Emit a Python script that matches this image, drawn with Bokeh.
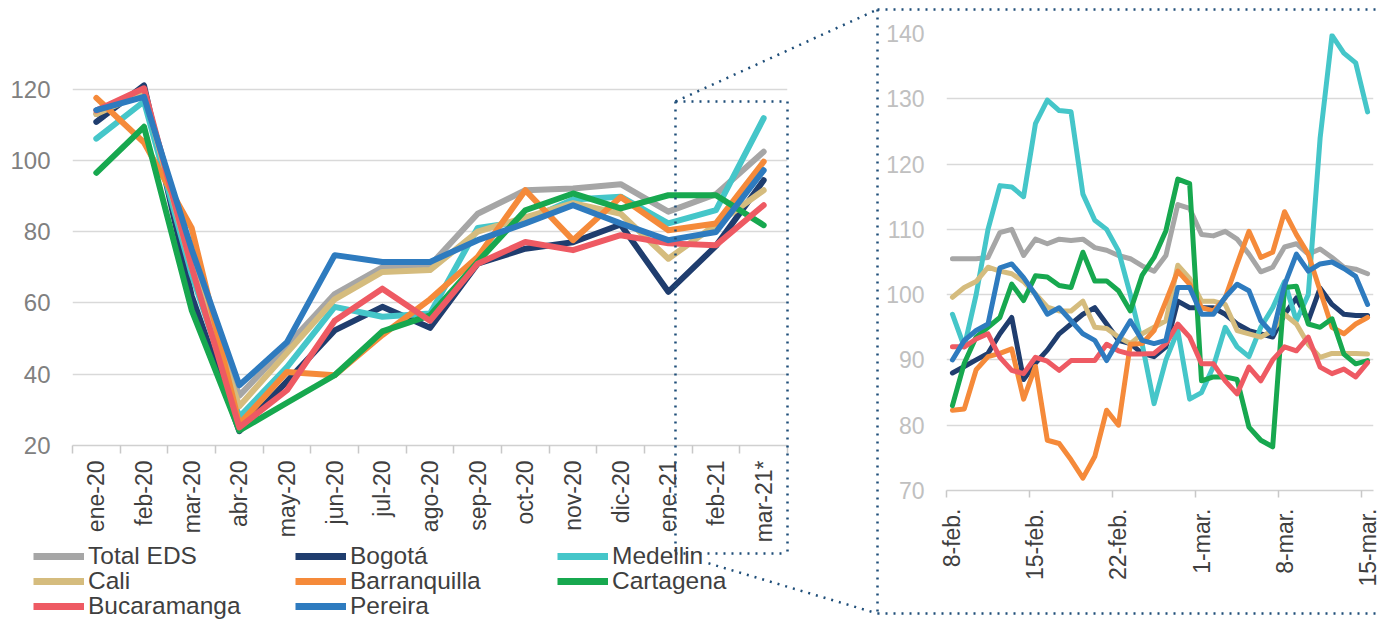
import math
from jinja2 import Template
from bokeh.plotting import figure
from bokeh.models import FixedTicker, Legend, LegendItem
from bokeh.embed import file_html
from bokeh.resources import INLINE

FONT = "Liberation Sans"
DOT = "#1f4e79"

# ---------------- data ----------------
months = ["ene-20", "feb-20", "mar-20", "abr-20", "may-20", "jun-20", "jul-20", "ago-20",
          "sep-20", "oct-20", "nov-20", "dic-20", "ene-21", "feb-21", "mar-21*"]

series_names = ["Total EDS", "Bogotá", "Medellin", "Cali", "Barranquilla",
                "Cartagena", "Bucaramanga", "Pereira"]
series_colors = ["#a6a6a6", "#1f3d6e", "#45c6c9", "#d5bc7e", "#f58a3a",
                 "#17a84f", "#ee5a63", "#2e7bbf"]

total_m = [113, 119, 72, 34, 48, 62.5, 70, 70.5, 85, 91.6, 92.1, 93.3, 85.6, 90.5, 102.4]
bogota_m = [110.8, 121, 62, 24, 38, 52.3, 58.9, 53, 71, 75.2, 77, 82, 63.1, 76, 94.4]
medellin_m = [106.1, 116.5, 68, 28, 42, 58.9, 56.1, 57, 81, 83, 89, 89.8, 82.3, 86, 111.8]
cali_m = [113, 119, 70, 31, 46, 61, 68.7, 69.2, 80, 84, 88, 85, 72.4, 82, 91.6]
barranquilla_m = [117.5, 105, 81, 26, 40.6, 39.7, 51, 61, 72.9, 91.6, 77.6, 89.7, 80.4, 82.3, 99.6]
cartagena_m = [96.5, 109.4, 58, 24.2, 32, 39.7, 52, 56.5, 71.5, 86, 90.7, 86.5, 90.2, 90.2, 81.8]
bucaramanga_m = [114, 120.2, 70, 25.1, 35.5, 55, 64, 55, 71, 77.1, 74.8, 79, 76.7, 76.2, 87.4]
pereira_m = [114.1, 117.8, 75, 36.9, 49, 73.4, 71.5, 71.5, 77.6, 82.3, 87.4, 82.3, 77.6, 79.9, 97.2]

# daily index, 8-feb .. 15-mar (36 days), labels every 7 days
day_labels = ["8-feb.", "15-feb.", "22-feb.", "1-mar.", "8-mar.", "15-mar."]
total_d = [105.5, 105.5, 105.5, 105.7, 109.5, 110.0, 106.0, 108.5, 107.8, 108.5, 108.3, 108.5,
           107.2, 106.8, 106.0, 105.5, 104.4, 103.6, 106.0, 113.8, 113.2, 109.2, 109.0, 109.7,
           108.5, 106.2, 103.5, 104.2, 107.3, 107.8, 106.2, 107.0, 105.7, 104.2, 103.9, 103.2]
bogota_d = [88, 89, 90, 91, 94, 96.5, 87, 89.5, 91.5, 94, 95.5, 97, 98, 95.5, 93, 92.5, 91, 90.5,
            92, 99, 98, 98, 98, 97, 95.5, 94.5, 94, 93.5, 97, 99.5, 96, 101, 98.5, 97, 96.8, 96.8]
medellin_d = [97, 92, 100, 110, 116.7, 116.5, 115, 126.2, 129.8, 128.2, 128, 115.4, 111.4, 110,
              106.7, 100, 92.4, 83.3, 90, 94.5, 84, 85, 89, 95, 92, 90.5, 95, 98, 102, 96, 100,
              124, 139.7, 137, 135.5, 128]
cali_d = [99.6, 101.1, 102, 104.2, 103.6, 103.2, 102, 100.1, 98.1, 97.5, 97.5, 99, 95, 94.8, 93.5,
          92.5, 94, 95, 96, 104.5, 102.5, 99, 99, 98.5, 94.5, 94, 93.5, 94.5, 97, 95.5, 92.4,
          90.4, 91, 91, 91, 90.9]
barranquilla_d = [82.3, 82.5, 88.5, 90.5, 91, 91.7, 84, 89, 77.7, 77.2, 74.7, 71.9, 75.2, 82.3,
                  80, 92.4, 92.5, 94.5, 99, 103.6, 101.6, 98, 97.5, 99.5, 104.7, 109.7, 105.7,
                  106.5, 112.7, 109.2, 106.2, 100.6, 95, 94, 95.5, 96.5]
cartagena_d = [83, 89.5, 93.5, 95, 96.5, 101.6, 99.1, 102.9, 102.7, 101.4, 101.1, 106.5, 102.1,
               102.1, 100.6, 97.5, 103, 105.7, 109.8, 117.7, 117, 86.8, 87.4, 87.4, 87, 79.7,
               77.7, 76.7, 101.1, 101.3, 95.5, 95, 96.3, 90.9, 89.4, 89.9]
bucaramanga_d = [92, 92, 93.2, 94, 90.4, 88.4, 87.9, 90.4, 89.8, 88.4, 89.9, 89.9, 89.9, 92.4,
                 91.4, 90.9, 90.9, 91, 92.5, 95.5, 93.5, 89.4, 89.4, 86.8, 84.8, 88.9, 86.8, 90,
                 92, 91.4, 93.5, 88.9, 87.9, 88.6, 87.4, 89.6]
pereira_d = [90, 93, 94.5, 95.5, 104.1, 104.7, 102.6, 100, 97, 98, 96, 94, 93, 89.9, 93, 96, 93,
             92.5, 93, 101.1, 101.1, 97, 97, 99.6, 101.6, 100.6, 96, 94, 101.5, 106.2, 103.6,
             104.7, 105, 104, 102.8, 98.5]

monthly = [total_m, bogota_m, medellin_m, cali_m, barranquilla_m, cartagena_m, bucaramanga_m, pereira_m]
daily = [total_d, bogota_d, medellin_d, cali_d, barranquilla_d, cartagena_d, bucaramanga_d, pereira_d]

# ---------------- page geometry ----------------
PAGE_W, PAGE_H = 1381, 619
L_LEFT, L_RIGHT, L_TOP, L_BOTTOM = 72, 787, 60, 445      # left chart frame (page px)
L_YMIN, L_YMAX = 20, 128
R_X0 = 876                                               # right chart canvas origin
R_LEFT, R_RIGHT, R_TOP, R_BOTTOM = 946, 1373, 33, 490   # right chart frame (page px)
R_YMIN, R_YMAX = 70, 140


def style_x_axis(axis, standoff, tick_out, size):
    axis.major_label_orientation = math.pi / 2
    axis.major_tick_line_color = None
    axis.major_tick_out = 0
    axis.major_tick_in = 0
    axis.minor_tick_line_color = "#c8c8c8"
    axis.minor_tick_line_width = 1.5
    axis.minor_tick_out = tick_out
    axis.minor_tick_in = 0
    axis.axis_line_color = "#d0d0d0"
    axis.axis_line_width = 1.5
    axis.major_label_standoff = standoff
    axis.major_label_text_font = FONT
    axis.major_label_text_font_size = size
    axis.major_label_text_color = "#3f3f3f"


def style_y_axis(axis, color, size):
    axis.axis_line_color = None
    axis.major_tick_line_color = None
    axis.minor_tick_line_color = None
    axis.major_tick_out = 0
    axis.major_tick_in = 0
    axis.major_label_standoff = 22
    axis.major_label_text_font = FONT
    axis.major_label_text_font_size = size
    axis.major_label_text_color = color


# ---------------- left chart (monthly) ----------------
left = figure(width=R_X0, height=PAGE_H, x_range=(-0.5, len(months) - 0.5),
              y_range=(L_YMIN, L_YMAX), output_backend="svg", toolbar_location=None,
              min_border_left=L_LEFT, min_border_right=R_X0 - L_RIGHT,
              min_border_top=L_TOP, min_border_bottom=PAGE_H - L_BOTTOM)
left.outline_line_color = None

xm = list(range(len(months)))
for vals, col in zip(monthly, series_colors):
    left.line(xm, vals, line_color=col, line_width=6, line_join="round", line_cap="round")

ax = left.xaxis[0]
ax.ticker = FixedTicker(ticks=xm, minor_ticks=[i - 0.5 for i in range(len(months) + 1)])
ax.major_label_overrides = {i: m for i, m in enumerate(months)}
style_x_axis(ax, standoff=7, tick_out=8, size="23px")

yt = FixedTicker(ticks=[20, 40, 60, 80, 100, 120])
left.yaxis[0].ticker = yt
style_y_axis(left.yaxis[0], "#808080", "24px")
left.xgrid.visible = False
left.ygrid.ticker = yt
left.ygrid.grid_line_color = "#d9d9d9"
left.ygrid.grid_line_width = 1.5

# ---------------- right chart (daily) ----------------
nd = len(total_d)
right = figure(width=PAGE_W - R_X0, height=PAGE_H, x_range=(-0.5, nd - 0.5),
               y_range=(R_YMIN, R_YMAX), output_backend="svg", toolbar_location=None,
               min_border_left=R_LEFT - R_X0, min_border_right=PAGE_W - R_RIGHT,
               min_border_top=R_TOP, min_border_bottom=PAGE_H - R_BOTTOM)
right.outline_line_color = None

xd = list(range(nd))
for vals, col in zip(daily, series_colors):
    right.line(xd, vals, line_color=col, line_width=5, line_join="round", line_cap="round")

bx = right.xaxis[0]
tick_pos = list(range(0, nd, 7))
bx.ticker = FixedTicker(ticks=tick_pos, minor_ticks=[t - 0.5 for t in tick_pos])
bx.major_label_overrides = {t: lab for t, lab in zip(tick_pos, day_labels)}
style_x_axis(bx, standoff=11, tick_out=7, size="23px")

yt2 = FixedTicker(ticks=[70, 80, 90, 100, 110, 120, 130, 140])
right.yaxis[0].ticker = yt2
style_y_axis(right.yaxis[0], "#c0c0c0", "23px")
right.xgrid.visible = False
right.ygrid.ticker = yt2
right.ygrid.grid_line_color = "#d9d9d9"
right.ygrid.grid_line_width = 1.5

# ---------------- overlay: zoom box, connectors, legend ----------------
overlay = figure(width=PAGE_W, height=PAGE_H, x_range=(0, PAGE_W), y_range=(PAGE_H, 0),
                 output_backend="svg", toolbar_location=None,
                 x_axis_location=None, y_axis_location=None, min_border=0,
                 min_border_left=0, min_border_right=0, min_border_top=0, min_border_bottom=0)
overlay.grid.visible = False
overlay.outline_line_color = None
overlay.background_fill_color = None
overlay.border_fill_color = None


def lpx(x):
    return L_LEFT + (x + 0.5) / len(months) * (L_RIGHT - L_LEFT)


def lpy(y):
    return L_BOTTOM - (y - L_YMIN) / (L_YMAX - L_YMIN) * (L_BOTTOM - L_TOP)


sb_left, sb_right, sb_top, sb_bottom = lpx(12.15), L_RIGHT, lpy(116.5), L_BOTTOM + 108
bb_left, bb_top, bb_bottom = R_X0 + 1, 9, 613
# bottom connector runs from the small box corner to the big box corner (hidden behind legend text at first)
t0 = (708 - sb_left) / (bb_left - sb_left)
conn_y0 = sb_bottom + t0 * (bb_bottom - sb_bottom)

x0s = [sb_left, sb_left, sb_left, sb_right, sb_left, 708, bb_left, bb_left, bb_left]
y0s = [sb_top, sb_bottom, sb_top, sb_top, sb_top, conn_y0, bb_top, bb_top, bb_bottom]
x1s = [sb_right, sb_right, sb_left, sb_right, bb_left, bb_left, PAGE_W + 5, bb_left, PAGE_W + 5]
y1s = [sb_top, sb_bottom, sb_bottom, sb_bottom, bb_top, bb_bottom, bb_top, bb_bottom, bb_bottom]
overlay.segment(x0=x0s, y0=y0s, x1=x1s, y1=y1s, line_color=DOT, line_width=2.5,
                line_dash="2 6", line_cap="butt")

# legend swatches: renderers whose points lie outside the visible frame
legend_renderers = [overlay.line(x=[-60, -50], y=[-60, -60], line_color=c, line_width=7)
                    for c in series_colors]
legend_rows = [[0, 1, 2], [3, 4, 5], [6, 7]]
row_centers = [557, 582, 607]
for idxs, cy in zip(legend_rows, row_centers):
    lg = Legend(items=[LegendItem(label=series_names[i], renderers=[legend_renderers[i]]) for i in idxs],
                location=(33, PAGE_H - cy - 13), orientation="horizontal", padding=0, margin=0,
                spacing=7, glyph_width=51, glyph_height=20, label_standoff=4, label_width=200,
                label_height=20, label_text_font=FONT, label_text_font_size="24.5px",
                label_text_color="#3f3f3f", background_fill_alpha=0, border_line_alpha=0)
    overlay.add_layout(lg, "center")

TEMPLATE = Template("""<!DOCTYPE html>
<html lang="en">
<head>
<meta charset="utf-8">
<title>{{ title }}</title>
<style>html, body { margin: 0; padding: 0; overflow: hidden; }</style>
{{ bokeh_css if bokeh_css }}
{{ bokeh_js if bokeh_js }}
</head>
<body>
{% for root in roots %}
<div style="position: absolute; left: {{ positions[loop.index0][0] }}px; top: {{ positions[loop.index0][1] }}px;">
<div id="{{ root.elementid }}" style="display: contents;"></div>
</div>
{% endfor %}
{{ plot_script }}
</body>
</html>""")

html = file_html([left, right, overlay], INLINE, title="EDS", template=TEMPLATE,
                 template_variables={"positions": [(0, 0), (R_X0, 0), (0, 0)]})
open("out.html", "w").write(html)
